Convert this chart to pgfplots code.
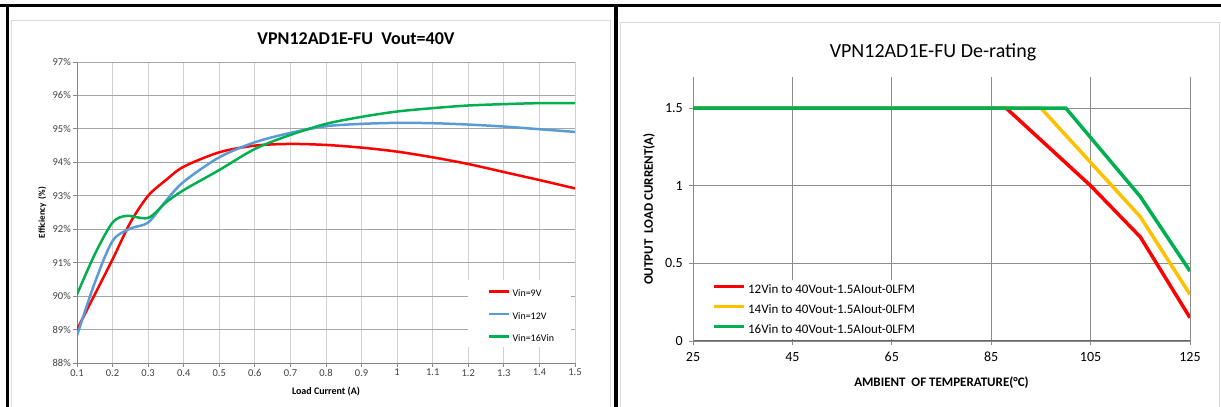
\documentclass[border=0pt]{standalone}
\usepackage{fontspec}
\setmainfont{Carlito}
\usepackage{pgfplots}
\pgfplotsset{compat=1.18}
\definecolor{cred}{HTML}{FF0000}
\definecolor{cblue}{HTML}{5B9BD5}
\definecolor{cgreen}{HTML}{00B050}
\definecolor{cyellow}{HTML}{FFC000}
\definecolor{gridA}{HTML}{A6A6A6}
\definecolor{gridB}{HTML}{D0D0D0}
\definecolor{axisg}{HTML}{868686}
\definecolor{gridR}{HTML}{8C8C8C}
\definecolor{panel}{HTML}{D9D9D9}
\begin{document}
\begin{tikzpicture}[x=1pt,y=1pt]
\useasboundingbox (0,0) rectangle (1221,407);
% panel frames
\draw[panel, line width=1pt] (11,-5) -- (11,386) -- (610,386) -- (610,-5);
\draw[panel, line width=1pt] (620,-5) -- (620,384) -- (1219,384) -- (1219,-5);
\draw[black, line width=3pt] (0,401.5) -- (1221,401.5);
\draw[black, line width=3pt] (7,0) -- (7,403);
\draw[black, line width=3.5pt] (616,0) -- (616,403);
% titles
\node[font=\fontsize{18}{20}\selectfont\bfseries] at (356,368) {VPN12AD1E-FU\ \ Vout=40V};
\node[font=\fontsize{20}{22}\selectfont] at (933,355) {VPN12AD1E-FU De-rating};

% ---------------- left chart ----------------
\begin{axis}[
  at={(77pt,44pt)}, anchor=south west,
  scale only axis, width=498pt, height=301pt,
  xmin=0.1, xmax=1.5, ymin=88, ymax=97,
  /pgf/number format/assume math mode=true,
  axis x line=bottom, axis y line=left, axis line style={-, color=axisg, line width=0.8pt},
  xtick={0.1,0.2,0.3,0.4,0.5,0.6,0.7,0.8,0.9,1.0,1.1,1.2,1.3,1.4,1.5},
  xticklabels={0.1,0.2,0.3,0.4,0.5,0.6,0.7,0.8,0.9,1,1.1,1.2,1.3,1.4,1.5},
  ytick={88,89,90,91,92,93,94,95,96,97},
  yticklabels={88\%,89\%,90\%,91\%,92\%,93\%,94\%,95\%,96\%,97\%},
  grid=major, x grid style={color=gridB, line width=0.8pt}, y grid style={color=gridA, line width=0.8pt},
  tick align=outside, major tick length=4pt, tick style={color=axisg, line width=0.8pt},
  tick label style={font=\fontsize{10.5}{12}\selectfont, color=black!75},
  xticklabel style={inner sep=2pt},
  yticklabel style={inner sep=2pt},
  xlabel={Load Current (A)}, ylabel={Efficiency\ \ (\%)},
  xlabel style={font=\fontsize{10}{12}\selectfont\bfseries, at={(axis description cs:0.5,-0.096)}, anchor=center},
  ylabel style={font=\fontsize{9}{11}\selectfont\bfseries, at={(axis description cs:-0.07,0.5)}, anchor=center},
  legend style={at={(axis cs:1.255,90.2)}, anchor=north west, draw=none, fill=none, inner sep=0pt,
    row sep=13.5pt, column sep=2pt, font=\fontsize{10}{12}\selectfont,
    nodes={inner sep=0pt, text height=7pt, text depth=2pt}},
  legend cell align=left,
  legend image code/.code={\draw[#1] (0pt,2.5pt) -- (20pt,2.5pt);},
]
\fill[white] (axis cs:1.2,88.48) rectangle (axis cs:1.49,90.48);
\addplot[cred, line width=2.5pt, smooth, tension=0.5] coordinates {
(0.1,89.0)(0.15,90.05)(0.2,91.1)(0.25,92.2)(0.3,93.0)(0.35,93.47)(0.4,93.87)(0.5,94.3)(0.6,94.5)(0.7,94.55)(0.8,94.52)(0.9,94.44)(1.0,94.32)(1.1,94.15)(1.2,93.95)(1.3,93.71)(1.4,93.47)(1.5,93.22)};
\addlegendentry{Vin=9V}
\addplot[cblue, line width=2.5pt, smooth, tension=0.5] coordinates {
(0.1,88.82)(0.15,90.4)(0.2,91.65)(0.25,92.02)(0.3,92.2)(0.35,92.85)(0.4,93.42)(0.5,94.15)(0.6,94.6)(0.7,94.88)(0.8,95.08)(0.9,95.15)(1.0,95.18)(1.1,95.17)(1.2,95.13)(1.3,95.07)(1.4,94.99)(1.5,94.91)};
\addlegendentry{Vin=12V}
\addplot[cgreen, line width=2.5pt, smooth, tension=0.5] coordinates {
(0.1,90.05)(0.15,91.25)(0.2,92.2)(0.24,92.4)(0.3,92.34)(0.35,92.8)(0.4,93.17)(0.5,93.77)(0.6,94.4)(0.7,94.82)(0.8,95.15)(0.9,95.36)(1.0,95.52)(1.1,95.62)(1.2,95.7)(1.3,95.74)(1.4,95.77)(1.5,95.77)};
\addlegendentry{Vin=16Vin}
\end{axis}

% ---------------- right chart ----------------
\begin{axis}[
  at={(693pt,66pt)}, anchor=south west,
  scale only axis, width=497pt, height=264pt,
  xmin=25, xmax=125, ymin=0, ymax=1.7,
  /pgf/number format/assume math mode=true,
  axis x line=bottom, axis y line=left, axis line style={-},
  x axis line style={color=black!60, line width=1pt},
  y axis line style={color=gridR, line width=0.8pt},
  xtick={25,45,65,85,105,125},
  ytick={0,0.5,1,1.5}, yticklabels={0,0.5,1,1.5},
  grid=major, grid style={color=gridR, line width=0.8pt},
  tick align=outside, major tick length=4pt, tick style={color=gridR, line width=0.8pt},
  tick label style={font=\fontsize{14}{16}\selectfont, color=black},
  xticklabel style={inner sep=7pt},
  yticklabel style={inner sep=6pt},
  xlabel={AMBIENT\ \ OF TEMPERATURE(°C)}, ylabel={OUTPUT\ \ LOAD CURRENT(A)},
  xlabel style={font=\fontsize{13}{15}\selectfont\bfseries, at={(axis description cs:0.5,-0.159)}, anchor=center},
  ylabel style={font=\fontsize{13}{15}\selectfont\bfseries, at={(axis description cs:-0.0885,0.5)}, anchor=center},
  legend style={at={(axis cs:28.9,0.367)}, anchor=north west, draw=none, fill=none, inner sep=0pt,
    row sep=8pt, column sep=2pt, font=\fontsize{13}{15}\selectfont,
    nodes={inner sep=0pt, text height=9.5pt, text depth=2.5pt}},
  legend cell align=left,
  legend image code/.code={\draw[#1] (0pt,3.5pt) -- (30pt,3.5pt);},
]
\fill[white] (axis cs:26.4,0.012) rectangle (axis cs:70.7,0.393);
\addplot[cred, line width=3.5pt] coordinates {(25,1.5)(88,1.5)(105,1.0)(115,0.67)(125,0.15)};
\addlegendentry{12Vin to 40Vout-1.5AIout-0LFM}
\addplot[cyellow, line width=3.5pt] coordinates {(25,1.5)(95,1.5)(115,0.8)(125,0.3)};
\addlegendentry{14Vin to 40Vout-1.5AIout-0LFM}
\addplot[cgreen, line width=3.5pt] coordinates {(25,1.5)(100,1.5)(115,0.93)(125,0.45)};
\addlegendentry{16Vin to 40Vout-1.5AIout-0LFM}
\end{axis}
\end{tikzpicture}
\end{document}
